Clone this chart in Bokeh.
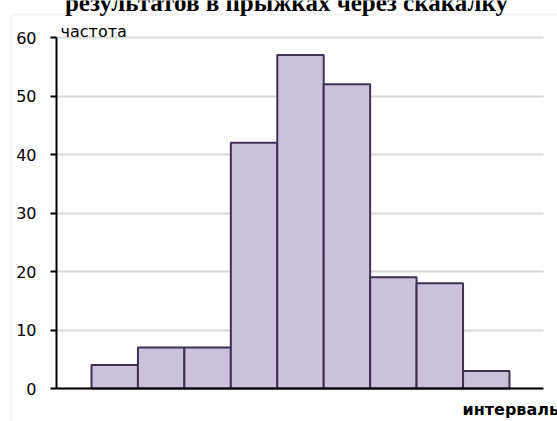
from bokeh.plotting import figure
from bokeh.models import Label, BoxAnnotation, FixedTicker, LinearAxis
from bokeh.embed import file_html
from bokeh.resources import INLINE

# Frequency histogram of rope-skipping results
intervals = [1, 2, 3, 4, 5, 6, 7, 8, 9]
frequency = [4, 7, 7, 42, 57, 52, 19, 18, 3]
y_ticks = [0, 10, 20, 30, 40, 50, 60]

title_text = "результатов в прыжках через скакалку"
y_label = "частота"
x_label = "интервалы"

# the plotting frame fills the whole canvas; axes are pinned inside it
X0, X1 = -1.4595, 10.534
Y0, Y1 = -5.641, 66.325
AXIS_X = -0.2537      # where the vertical axis stands
PLOT_END = 10.232     # right end of the baseline and grid lines

p = figure(
    width=557, height=421,
    x_range=(X0, X1), y_range=(Y0, Y1),
    output_backend="svg", toolbar_location=None,
    x_axis_location=None, y_axis_location=None,
    min_border=0, min_border_left=0, min_border_right=0,
    min_border_top=0, min_border_bottom=0,
)
p.outline_line_color = None
p.background_fill_color = "white"
p.border_fill_color = "white"

# chart area border
p.add_layout(BoxAnnotation(left=11, right=900, top=14, bottom=900,
                           left_units="canvas", right_units="canvas",
                           top_units="canvas", bottom_units="canvas",
                           fill_color=None, line_color="#d9d9d9", line_width=2,
                           level="underlay"))

# histogram bars
p.vbar(x=intervals, top=frequency, width=1, bottom=0,
       fill_color="#ccc1da", line_color="#3f3151", line_width=2)

# vertical axis
ya = LinearAxis(fixed_location=AXIS_X, bounds=(0, 60),
                ticker=FixedTicker(ticks=y_ticks))
ya.axis_line_color = "black"
ya.axis_line_width = 2
ya.major_tick_line_color = "black"
ya.major_tick_line_width = 2
ya.major_tick_out = 6
ya.major_tick_in = 0
ya.minor_tick_line_color = None
ya.major_label_standoff = 14
ya.major_label_text_font = "DejaVu Sans"
ya.major_label_text_font_size = "16px"
ya.major_label_text_color = "black"
p.add_layout(ya, "left")

# horizontal baseline
xa = LinearAxis(fixed_location=0, bounds=(AXIS_X, PLOT_END),
                ticker=FixedTicker(ticks=[]))
xa.axis_line_color = "black"
xa.axis_line_width = 2
xa.major_tick_line_color = None
xa.minor_tick_line_color = None
xa.major_label_text_font_size = "0px"
p.add_layout(xa, "below")

# grid
p.xgrid.visible = False
p.ygrid.ticker = FixedTicker(ticks=y_ticks)
p.ygrid.grid_line_color = "#d9d9d9"
p.ygrid.grid_line_width = 2
p.ygrid.bounds = (0, 60)
try:
    p.ygrid.cross_bounds = (AXIS_X, PLOT_END)
except AttributeError:
    pass
p.ygrid.level = "underlay"

p.add_layout(Label(x=286, y=2, x_units="canvas", y_units="canvas",
                   text=title_text, text_align="center",
                   text_baseline="alphabetic", text_font="Liberation Serif",
                   text_font_style="bold", text_font_size="25px", text_color="black"))
p.add_layout(Label(x=60, y=31, x_units="canvas", y_units="canvas",
                   text=y_label, text_align="left",
                   text_baseline="alphabetic", text_font="DejaVu Sans",
                   text_font_size="16px", text_color="black"))
p.add_layout(Label(x=462, y=409, x_units="canvas", y_units="canvas",
                   text=x_label, text_align="left",
                   text_baseline="alphabetic", text_font="DejaVu Sans",
                   text_font_style="bold", text_font_size="16px", text_color="black"))

open("out.html", "w").write(file_html(p, INLINE))
